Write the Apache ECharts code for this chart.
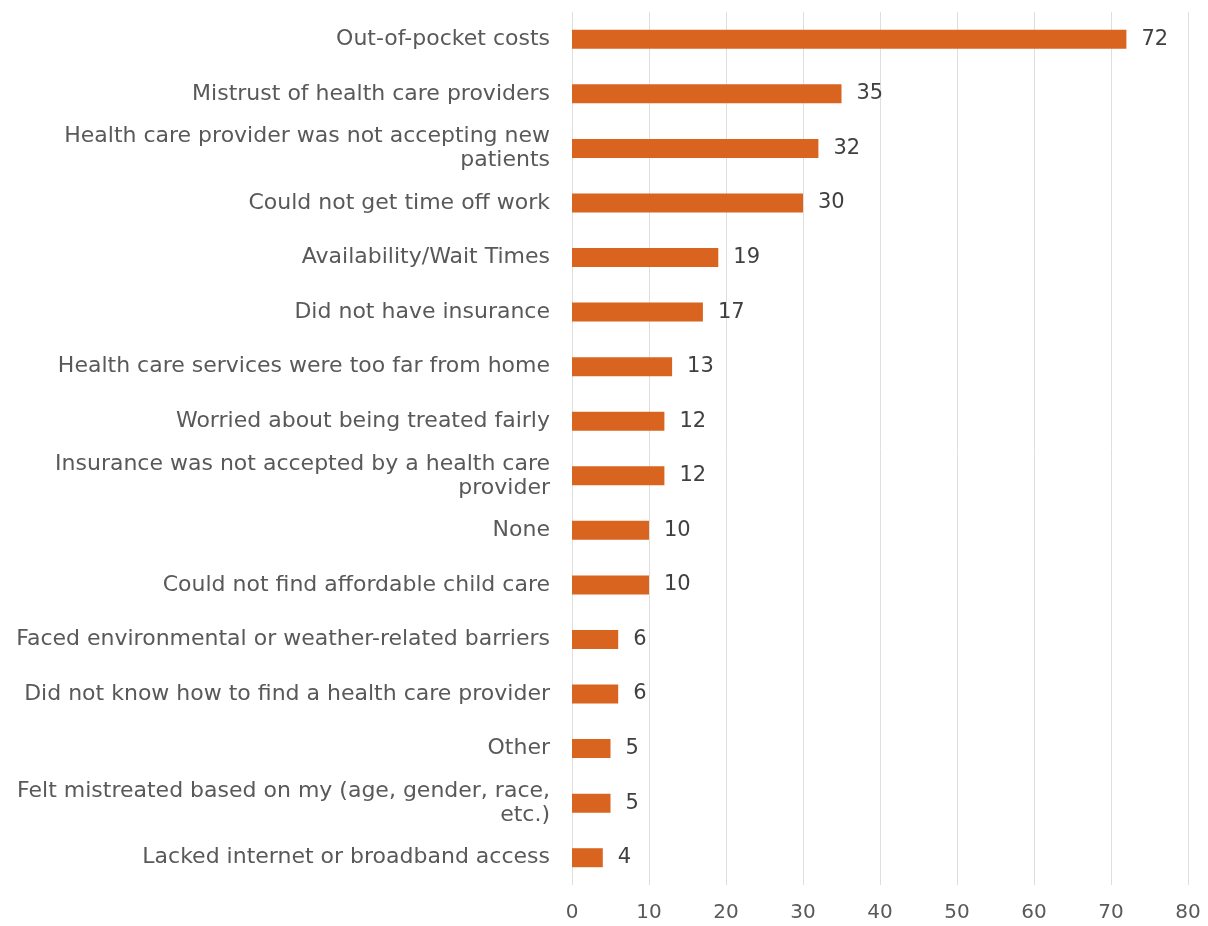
<!DOCTYPE html>
<html>
<head>
<meta charset="utf-8">
<script src="https://cdn.jsdelivr.net/npm/echarts@6/dist/echarts.min.js"></script>
<style>
  html, body { margin: 0; padding: 0; background: #fff; }
  #chart { width: 1208px; height: 926px; }
</style>
</head>
<body>
<div id="chart"></div>
<script>
  // categories top -> bottom as in the picture
  const categories = [
    'Out-of-pocket costs',
    'Mistrust of health care providers',
    'Health care provider was not accepting new\npatients',
    'Could not get time off work',
    'Availability/Wait Times',
    'Did not have insurance',
    'Health care services were too far from home',
    'Worried about being treated fairly',
    'Insurance was not accepted by a health care\nprovider',
    'None',
    'Could not find affordable child care',
    'Faced environmental or weather-related barriers',
    'Did not know how to find a health care provider',
    'Other',
    'Felt mistreated based on my (age, gender, race,\netc.)',
    'Lacked internet or broadband access'
  ];
  const values = [72, 35, 32, 30, 19, 17, 13, 12, 12, 10, 10, 6, 6, 5, 5, 4];
  const xTicks = [0, 10, 20, 30, 40, 50, 60, 70, 80];

  const barColor = '#D8641F';
  const textColor = '#595959';

  const chart = echarts.init(document.getElementById('chart'));
  chart.setOption({
    animation: false,
    grid: {
      top: 12,
      bottom: 41,
      left: 572,
      right: 20
    },
    xAxis: {
      type: 'value',
      min: xTicks[0],
      max: xTicks[xTicks.length - 1],
      interval: 10,
      axisLine: { show: false },
      axisTick: { show: false },
      axisLabel: {
        color: textColor,
        fontFamily: 'DejaVu Sans',
        fontSize: 20,
        margin: 18
      },
      splitLine: {
        show: true,
        lineStyle: { color: '#dedede', width: 1 }
      }
    },
    yAxis: {
      type: 'category',
      inverse: true,
      data: categories,
      axisLine: { show: false },
      axisTick: { show: false },
      axisLabel: {
        color: textColor,
        fontFamily: 'DejaVu Sans',
        fontSize: 22,
        lineHeight: 24,
        margin: 22,
        align: 'right'
      }
    },
    series: [{
      type: 'bar',
      data: values,
      barWidth: 19,
      itemStyle: { color: barColor },
      label: {
        show: true,
        position: 'right',
        distance: 15,
        color: '#404040',
        fontFamily: 'DejaVu Sans',
        fontSize: 21
      }
    }]
  });
</script>
</body>
</html>
